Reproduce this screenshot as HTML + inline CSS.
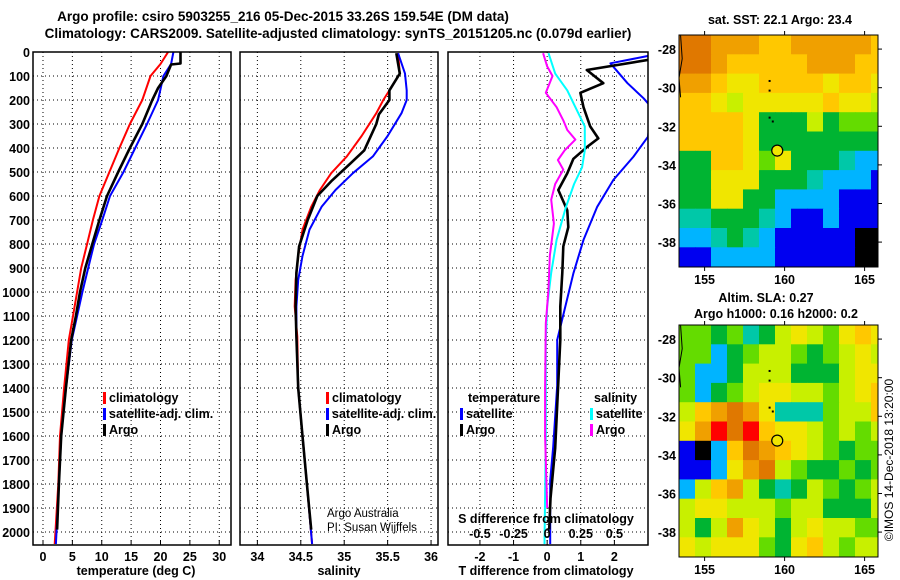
<!DOCTYPE html>
<html><head><meta charset="utf-8"><style>
body{margin:0;background:#fff;}
svg{display:block;font-family:"Liberation Sans",sans-serif;font-weight:bold;}
</style></head><body>
<svg id="chart" width="900" height="580" viewBox="0 0 900 580" xmlns="http://www.w3.org/2000/svg">
<text x="283" y="21" font-size="13.5" text-anchor="middle">Argo profile: csiro 5903255_216 05-Dec-2015 33.26S 159.54E (DM data)</text>
<text x="338" y="38" font-size="13.5" text-anchor="middle">Climatology: CARS2009. Satellite-adjusted climatology: synTS_20151205.nc (0.079d earlier)</text>
<g id="g"></g>
</svg>
<script>
// ---- profile data ----
const tDepth=[0,50,100,200,300,400,500,600,700,800,900,1000,1100,1200,1400,1600,1800,2050];
const tClim=[21.3,20.0,18.3,16.9,14.8,13.0,11.3,9.6,8.5,7.5,6.5,5.8,5.1,4.4,3.6,2.9,2.6,2.0];
const tSat=[22.2,21.8,20.5,19.6,17.7,15.7,13.7,11.4,10.1,8.7,7.7,6.7,5.8,4.9,3.9,3.1,2.7,2.2];
const argoDepth=[0,48,52,100,150,200,300,400,500,600,700,800,900,1000,1100,1200,1400,1600,1800,1990];
const tArgo=[23.4,23.4,21.8,21.0,19.6,18.6,16.9,14.8,12.8,10.9,9.6,8.4,7.2,6.3,5.6,4.8,3.9,3.1,2.7,2.4];
const sDepth=[5,90,160,200,255,350,435,505,575,645,740,850,950,1060,1185,1400,1600,1800,2050];
const sClim=[35.62,35.64,35.52,35.45,35.37,35.2,35.03,34.85,34.72,34.62,34.52,34.47,34.44,34.43,34.46,34.47,34.52,34.57,34.63];
const sSat=[35.62,35.7,35.72,35.72,35.66,35.5,35.33,35.1,34.9,34.74,34.6,34.52,34.47,34.45,34.45,34.47,34.52,34.57,34.63];
const sArgoDepth=[5,90,160,200,260,300,410,465,535,600,700,810,920,1060,1185,1400,1600,1800,1990];
const sArgo=[35.6,35.64,35.52,35.52,35.4,35.37,35.23,35.07,34.86,34.69,34.58,34.48,34.45,34.44,34.45,34.47,34.52,34.57,34.62];
// ---- difference data ----
const dTDepth=[0,33,75,130,170,230,310,360,395,445,505,575,660,730,810,920,1060,1200,1650,1860,1990];
const dTArgo=[3.5,3.0,1.18,1.67,0.99,1.08,1.28,1.52,1.19,0.78,0.6,0.33,0.6,0.63,0.48,0.45,0.39,0.39,0.24,0.1,0.06];
const dTSatDepth=[0,47,130,193,230,353,436,533,645,783,922,1061,1200,1390,1645,1785,2050];
const dTSat=[3.6,1.88,2.39,2.87,3.1,3.0,2.57,1.97,1.49,1.08,0.78,0.54,0.3,0.3,0.18,0.09,0.09];
const dSSatDepth=[5,90,160,230,310,410,480,550,645,783,920,1060,1200,1600,2050];
const dSSat=[0.01,0.06,0.15,0.21,0.28,0.28,0.26,0.2,0.14,0.07,0.03,0.0,-0.01,-0.01,-0.02];
const dSArgoDepth=[5,60,100,170,230,285,325,365,410,450,490,550,615,715,850,990,1130,1400,1600,1900];
const dSArgo=[-0.03,0,0.04,-0.01,0.07,0.12,0.15,0.21,0.13,0.08,0.12,0.06,0.03,0.05,0.02,0.01,-0.01,-0.015,-0.015,0.0];
// ---- ticks ----
const depthTicks=[0,100,200,300,400,500,600,700,800,900,1000,1100,1200,1300,1400,1500,1600,1700,1800,1900,2000];
const tempTicks=[0,5,10,15,20,25,30];
const salTicks=[34,34.5,35,35.5,36];
const dTTicks=[-2,-1,0,1,2];
const dSTicks=[-0.5,-0.25,0,0.25,0.5];
const lonTicks=[155,160,165];
const latTicks=[-28,-30,-32,-34,-36,-38];
// ---- map data (1-degree cells from 153.4E, -27.3 down) ----
const palette=['#000000','#0000f0','#00b4ff','#00c8a8','#00b432','#64dc00','#c8f000','#f0e600','#ffc800','#f0a000','#e07800','#ff0000'];
const sstGrid=[
[10,10,9,9,9,8,8,9,9,9,9,9,8],
[10,10,9,8,8,8,8,8,9,9,9,8,8],
[9,9,8,7,7,8,8,8,8,7,8,8,7],
[8,8,7,6,7,7,7,7,7,8,7,7,6],
[8,8,8,8,7,4,4,4,6,4,5,5,5],
[8,8,8,8,7,4,4,4,4,4,4,4,4],
[4,4,8,8,7,5,7,4,4,4,3,2,2],
[4,4,7,7,7,4,4,4,3,2,2,2,1],
[4,4,7,7,4,4,2,2,2,2,1,1,1],
[3,3,4,4,4,3,2,1,1,2,1,1,1],
[2,2,3,4,3,2,1,1,1,1,1,0,0],
[1,1,2,2,2,2,1,1,1,1,1,0,0]];
const slaGrid=[
[5,5,4,5,3,4,6,7,6,5,7,8,7],
[5,5,2,4,5,6,6,5,4,5,6,7,6],
[5,2,2,4,6,6,6,4,4,4,6,7,7],
[5,2,4,5,6,7,7,6,6,5,6,7,8],
[6,8,9,10,9,7,3,3,3,5,6,6,8],
[7,9,11,10,11,8,7,7,6,5,6,5,6],
[1,0,2,8,10,9,8,7,6,5,4,5,5],
[1,1,2,7,9,10,6,5,4,4,5,4,5],
[2,6,8,9,6,4,3,4,6,5,4,5,6],
[6,7,7,6,6,6,5,6,6,4,4,4,6],
[6,4,6,9,7,6,4,6,7,6,6,5,5],
[7,6,7,7,7,5,4,7,8,6,5,6,6]];
const floatLon=159.54, floatLat=-33.26;

const NS='http://www.w3.org/2000/svg';
const G=document.getElementById('g');
function mk(tag,attrs,parent){const e=document.createElementNS(NS,tag);for(const k in attrs)e.setAttribute(k,attrs[k]);(parent||G).appendChild(e);return e;}
function txt(x,y,s,size,anchor,parent){const e=mk('text',{x:x,y:y,'font-size':size,'text-anchor':anchor||'middle'},parent);e.textContent=s;return e;}
const top0=52, pxPer100=24, bot=545;
const yD=d=>top0+d*pxPer100/100;
const panels=[
 {name:'temperature',x0:33,x1:231,v0:-1.7,v1:32},
 {name:'salinity',x0:240,x1:438,v0:33.8,v1:36.08},
 {name:'difference',x0:448,x1:648,v0:-2.95,v1:3.0}];
function sx(p,v){return p.x0+(v-p.v0)/(p.v1-p.v0)*(p.x1-p.x0);}
const clipDefs=mk('defs',{});
panels.forEach((p,i)=>{const c=mk('clipPath',{id:'clip'+i},clipDefs);mk('rect',{x:p.x0,y:top0,width:p.x1-p.x0,height:bot-top0},c);});

function grid(p,ticks,conv){
 const g=mk('g',{});
 
 
 depthTicks.forEach(d=>{if(d>0)mk('line',{x1:p.x0,x2:p.x1,y1:yD(d),y2:yD(d),stroke:'#000','stroke-width':1,'stroke-dasharray':'1,3'},g);});
 ticks.forEach(t=>{const x=sx(p,conv?conv(t):t);mk('line',{x1:x,x2:x,y1:top0,y2:bot,stroke:'#000','stroke-width':1,'stroke-dasharray':'1,3'},g);});
}
function line(p,i,depths,vals,color,w,name,conv){
 let d='';depths.forEach((dd,k)=>{d+=(k?'L':'M')+sx(p,conv?conv(vals[k]):vals[k]).toFixed(1)+','+yD(dd).toFixed(1);});
 const e=mk('path',{d:d,fill:'none',stroke:color,'stroke-width':w,'clip-path':'url(#clip'+i+')','stroke-linejoin':'round'});
 
 
}
// panel 1
grid(panels[0],tempTicks);
line(panels[0],0,tDepth,tClim,'#f00',2,'temp-climatology-line');
line(panels[0],0,tDepth,tSat,'#00f',2,'temp-satellite-line');
line(panels[0],0,argoDepth,tArgo,'#000',2.6,'temp-argo-line');
// panel 2
grid(panels[1],salTicks);
line(panels[1],1,sDepth,sClim,'#f00',2,'sal-climatology-line');
line(panels[1],1,sDepth,sSat,'#00f',2,'sal-satellite-line');
line(panels[1],1,sArgoDepth,sArgo,'#000',2.6,'sal-argo-line');
// panel 3
grid(panels[2],dTTicks);
const sConv=s=>s*4;
line(panels[2],2,dTSatDepth,dTSat,'#00f',2,'tdiff-satellite-line');
line(panels[2],2,dTDepth,dTArgo,'#000',2.6,'tdiff-argo-line');
line(panels[2],2,dSSatDepth,dSSat,'#0ff',2,'sdiff-satellite-line',sConv);
line(panels[2],2,dSArgoDepth,dSArgo,'#f0f',2,'sdiff-argo-line',sConv);

panels.forEach(p=>{
 const r=mk('rect',{x:p.x0,y:top0,width:p.x1-p.x0,height:bot-top0,fill:'none',stroke:'#000','stroke-width':1.5});
 
 
});
// depth labels
depthTicks.forEach(d=>{const t=txt(30,yD(d)+5,String(d),12.5,'end');
 
 });
function xTicks(p,ticks,fmt){ticks.forEach(t=>{const x=sx(p,t);mk('line',{x1:x,x2:x,y1:bot,y2:bot-5,stroke:'#000'});
 const e=txt(x,561,fmt?fmt(t):String(t),12.5);
 
 });}
xTicks(panels[0],tempTicks);
xTicks(panels[1],salTicks);
xTicks(panels[2],dTTicks);
dSTicks.forEach(s=>{const e=txt(sx(panels[2],s*4),538,s===0?'0':String(s).replace('0.','0.').replace('-0.','-0.'),12.5);
 
 });
const sdl=txt(546,523,'S difference from climatology',12.5);


[['temperature (deg C)',136],['salinity',339],['T difference from climatology',546]].forEach(a=>{
 const e=txt(a[1],575,a[0],12.5);
 
 });
// legends
function legend(x,y,entries,nm){entries.forEach((en,k)=>{
 const g=mk('g',{});
 
 
 mk('rect',{x:x-8,y:y+k*16-10,width:3,height:12,fill:en[1]},g);
 txt(x-2,y+k*16,en[0],12.5,'start',g);});}
legend(111,402,[['climatology','#f00'],['satellite-adj. clim.','#00f'],['Argo','#000']],'temp');
legend(334,402,[['climatology','#f00'],['satellite-adj. clim.','#00f'],['Argo','#000']],'sal');
const lt=txt(468,402,'temperature',12.5,'start');
legend(468,418,[['satellite','#00f'],['Argo','#000']],'tdiff');
const ls=txt(594,402,'salinity',12.5,'start');
legend(598,418,[['satellite','#0ff'],['Argo','#f0f']],'sdiff');
const c1=mk('text',{x:327,y:517,'font-size':11.5,'font-weight':'normal','text-anchor':'start'});c1.textContent='Argo Australia';

const c2=mk('text',{x:327,y:531,'font-size':11.5,'font-weight':'normal','text-anchor':'start'});c2.textContent='PI: Susan Wijffels';


// ---- maps ----
const mx0=679,mx1=878,lon0=153.4,lonPx=16;
const latPx=19.3,lat0=-27.27;
function drawMap(gridData,mapTop,name){
 const mapH=232;
 const clip=mk('clipPath',{id:'clip-'+name},clipDefs);
 mk('rect',{x:mx0,y:mapTop,width:mx1-mx0,height:mapH},clip);
 const g=mk('g',{'clip-path':'url(#clip-'+name+')'});
 
 
 const mX=lon=>mx0+(lon-lon0)*lonPx;
 const mY=lat=>mapTop+(lat0-lat)*latPx;
 gridData.forEach((row,r)=>row.forEach((c,k)=>{
  const cell=mk('rect',{x:mX(lon0+k).toFixed(1),y:mY(lat0-r).toFixed(1),width:lonPx+0.6,height:latPx+0.6,fill:palette[c]},g);
  
  
 }));
 mk('path',{d:`M${mX(153.5)},${mY(-27.3)} L${mX(153.6)},${mY(-28.5)} L${mX(153.4)},${mY(-29.5)} L${mX(153.5)},${mY(-30.5)}`,stroke:'#000',fill:'none','stroke-width':1},g);
 [[159,-29.6],[159,-30.1],[159,-31.5],[159.2,-31.7]].forEach(p=>mk('rect',{x:mX(p[0]),y:mY(p[1]),width:2,height:2,fill:'#000'},g));
 const fl=mk('circle',{cx:mX(floatLon),cy:mY(floatLat),r:5.5,fill:'#f0e600',stroke:'#000','stroke-width':1.2});
 
 
 const fr=mk('rect',{x:mx0,y:mapTop,width:mx1-mx0,height:mapH,fill:'none',stroke:'#000','stroke-width':1});
 
 latTicks.forEach(l=>{const y=mY(l);mk('line',{x1:mx1,x2:mx1+4,y1:y,y2:y,stroke:'#000'});
  const e=txt(676,y+5,String(l),12.5,'end');
  });
 lonTicks.forEach(l=>{const x=mX(l);mk('line',{x1:x,x2:x,y1:mapTop+mapH,y2:mapTop+mapH+4,stroke:'#000'});mk('line',{x1:x,x2:x,y1:mapTop,y2:mapTop-4,stroke:'#000'});
  const e=txt(x,mapTop+mapH+17,String(l),12.5);
  });
}
drawMap(sstGrid,35,'sst');
drawMap(slaGrid,325,'sla');
const t1=txt(780,24,'sat. SST: 22.1 Argo: 23.4',12.5);
const t2=txt(766,302,'Altim. SLA: 0.27',12.5);
const t3=txt(776,318,'Argo h1000: 0.16 h2000: 0.2',12.5);
const cp=mk('text',{x:0,y:0,'font-size':12,'font-weight':'normal','text-anchor':'middle',transform:'translate(893,460) rotate(-90)'});
cp.textContent='©IMOS 14-Dec-2018 13:20:00';

</script>
</body></html>
